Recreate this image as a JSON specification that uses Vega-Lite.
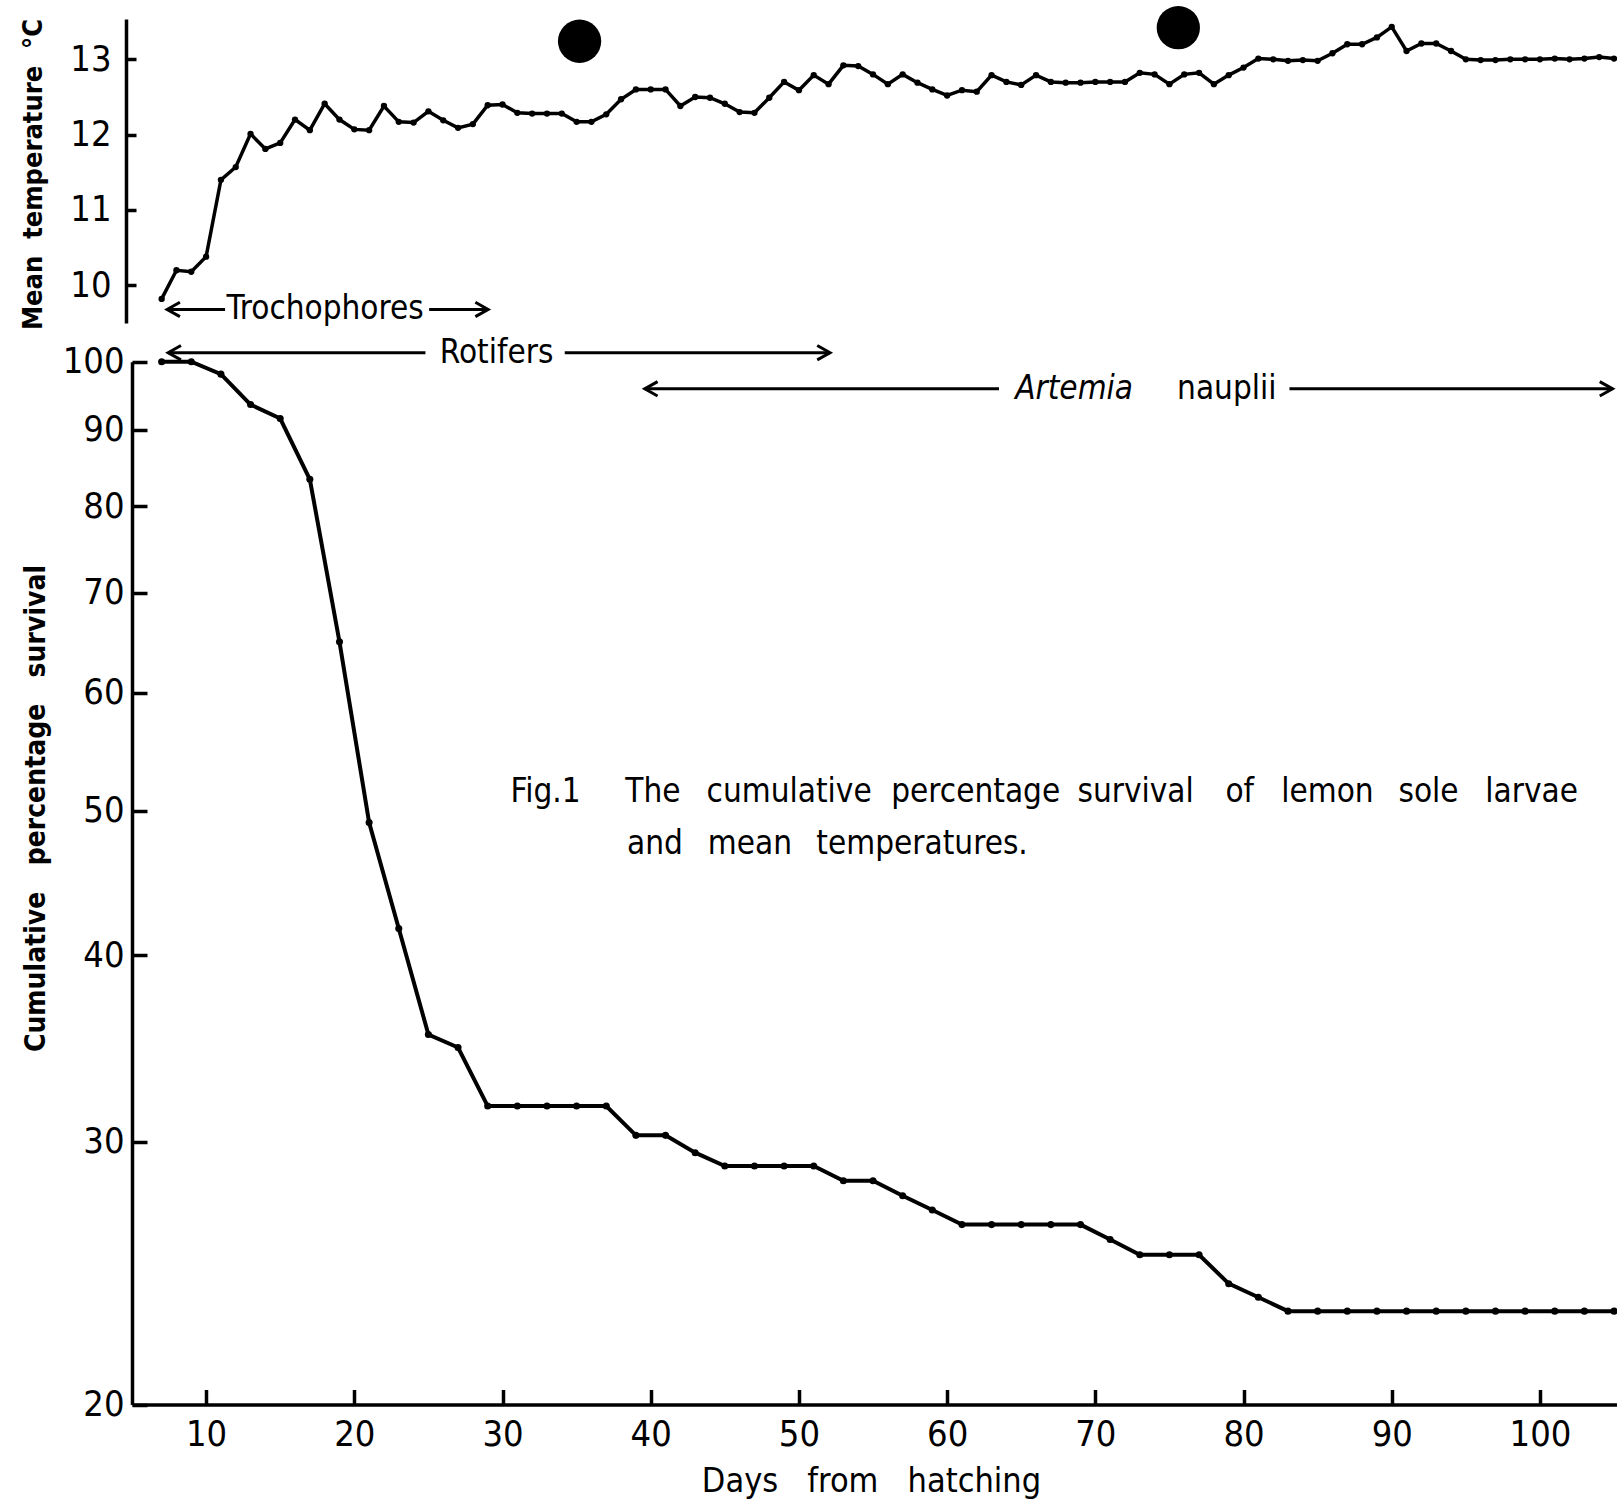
{
  "$schema": "https://vega.github.io/schema/vega-lite/v6.json",
  "autosize": {"type": "none"},
  "padding": {"left": 132, "top": 0, "right": 0, "bottom": 0},
  "width": 1485,
  "height": 1508,
  "background": "white",
  "config": {
    "view": {"stroke": null},
    "axis": {"grid": false, "domainColor": "black", "tickColor": "black", "labelColor": "black", "titleColor": "black", "domainWidth": 3.5, "tickWidth": 3.5, "labelOverlap": false, "labelFlush": false},
    "text": {"font": "DejaVu Sans Condensed, sans-serif", "fontSize": 33, "color": "black"}
  },
  "datasets": {
    "temp": [
      {"day": 7, "temp": 9.82}, {"day": 8, "temp": 10.2}, {"day": 9, "temp": 10.18}, {"day": 10, "temp": 10.38},
      {"day": 11, "temp": 11.4}, {"day": 12, "temp": 11.57}, {"day": 13, "temp": 12.01}, {"day": 14, "temp": 11.81},
      {"day": 15, "temp": 11.89}, {"day": 16, "temp": 12.2}, {"day": 17, "temp": 12.06}, {"day": 18, "temp": 12.41},
      {"day": 19, "temp": 12.2}, {"day": 20, "temp": 12.07}, {"day": 21, "temp": 12.06}, {"day": 22, "temp": 12.38},
      {"day": 23, "temp": 12.17}, {"day": 24, "temp": 12.16}, {"day": 25, "temp": 12.31}, {"day": 26, "temp": 12.19},
      {"day": 27, "temp": 12.09}, {"day": 28, "temp": 12.14}, {"day": 29, "temp": 12.39}, {"day": 30, "temp": 12.4},
      {"day": 31, "temp": 12.29}, {"day": 32, "temp": 12.28}, {"day": 33, "temp": 12.28}, {"day": 34, "temp": 12.28},
      {"day": 35, "temp": 12.17}, {"day": 36, "temp": 12.17}, {"day": 37, "temp": 12.27}, {"day": 38, "temp": 12.47},
      {"day": 39, "temp": 12.6}, {"day": 40, "temp": 12.6}, {"day": 41, "temp": 12.6}, {"day": 42, "temp": 12.38},
      {"day": 43, "temp": 12.5}, {"day": 44, "temp": 12.49}, {"day": 45, "temp": 12.41}, {"day": 46, "temp": 12.3},
      {"day": 47, "temp": 12.29}, {"day": 48, "temp": 12.49}, {"day": 49, "temp": 12.7}, {"day": 50, "temp": 12.59},
      {"day": 51, "temp": 12.79}, {"day": 52, "temp": 12.67}, {"day": 53, "temp": 12.92}, {"day": 54, "temp": 12.91},
      {"day": 55, "temp": 12.8}, {"day": 56, "temp": 12.67}, {"day": 57, "temp": 12.8}, {"day": 58, "temp": 12.69},
      {"day": 59, "temp": 12.6}, {"day": 60, "temp": 12.52}, {"day": 61, "temp": 12.59}, {"day": 62, "temp": 12.57},
      {"day": 63, "temp": 12.79}, {"day": 64, "temp": 12.7}, {"day": 65, "temp": 12.66}, {"day": 66, "temp": 12.79},
      {"day": 67, "temp": 12.7}, {"day": 68, "temp": 12.69}, {"day": 69, "temp": 12.69}, {"day": 70, "temp": 12.7},
      {"day": 71, "temp": 12.7}, {"day": 72, "temp": 12.7}, {"day": 73, "temp": 12.82}, {"day": 74, "temp": 12.8},
      {"day": 75, "temp": 12.67}, {"day": 76, "temp": 12.8}, {"day": 77, "temp": 12.82}, {"day": 78, "temp": 12.67},
      {"day": 79, "temp": 12.79}, {"day": 80, "temp": 12.89}, {"day": 81, "temp": 13.01}, {"day": 82, "temp": 13.0},
      {"day": 83, "temp": 12.98}, {"day": 84, "temp": 12.99}, {"day": 85, "temp": 12.98}, {"day": 86, "temp": 13.08},
      {"day": 87, "temp": 13.2}, {"day": 88, "temp": 13.2}, {"day": 89, "temp": 13.29}, {"day": 90, "temp": 13.43},
      {"day": 91, "temp": 13.11}, {"day": 92, "temp": 13.21}, {"day": 93, "temp": 13.21}, {"day": 94, "temp": 13.11},
      {"day": 95, "temp": 13.0}, {"day": 96, "temp": 12.99}, {"day": 97, "temp": 12.99}, {"day": 98, "temp": 13.0},
      {"day": 99, "temp": 13.0}, {"day": 100, "temp": 13.0}, {"day": 101, "temp": 13.01}, {"day": 102, "temp": 13.0},
      {"day": 103, "temp": 13.01}, {"day": 104, "temp": 13.03}, {"day": 105, "temp": 13.01}
    ],
    "blobs": [
      {"day": 35.2, "temp": 13.24}, {"day": 75.6, "temp": 13.42}
    ],
    "surv": [
      {"day": 7, "surv": 100}, {"day": 9, "surv": 100}, {"day": 11, "surv": 98.1}, {"day": 13, "surv": 93.6},
      {"day": 15, "surv": 91.6}, {"day": 17, "surv": 83.4}, {"day": 19, "surv": 64.9}, {"day": 21, "surv": 49.1},
      {"day": 23, "surv": 41.7}, {"day": 25, "surv": 35.4}, {"day": 27, "surv": 34.7}, {"day": 29, "surv": 31.7},
      {"day": 31, "surv": 31.7}, {"day": 33, "surv": 31.7}, {"day": 35, "surv": 31.7}, {"day": 37, "surv": 31.7},
      {"day": 39, "surv": 30.3}, {"day": 41, "surv": 30.3}, {"day": 43, "surv": 29.5}, {"day": 45, "surv": 28.9},
      {"day": 47, "surv": 28.9}, {"day": 49, "surv": 28.9}, {"day": 51, "surv": 28.9}, {"day": 53, "surv": 28.25},
      {"day": 55, "surv": 28.25}, {"day": 57, "surv": 27.6}, {"day": 59, "surv": 27.0}, {"day": 61, "surv": 26.4},
      {"day": 63, "surv": 26.4}, {"day": 65, "surv": 26.4}, {"day": 67, "surv": 26.4}, {"day": 69, "surv": 26.4},
      {"day": 71, "surv": 25.8}, {"day": 73, "surv": 25.2}, {"day": 75, "surv": 25.2}, {"day": 77, "surv": 25.2},
      {"day": 79, "surv": 24.1}, {"day": 81, "surv": 23.6}, {"day": 83, "surv": 23.1}, {"day": 85, "surv": 23.1},
      {"day": 87, "surv": 23.1}, {"day": 89, "surv": 23.1}, {"day": 91, "surv": 23.1}, {"day": 93, "surv": 23.1},
      {"day": 95, "surv": 23.1}, {"day": 97, "surv": 23.1}, {"day": 99, "surv": 23.1}, {"day": 101, "surv": 23.1},
      {"day": 103, "surv": 23.1}, {"day": 105, "surv": 23.1}
    ],
    "tempArrows": [
      {"day": 7.37, "day2": 11.28, "temp": 9.68},
      {"day": 25.05, "day2": 29.03, "temp": 9.68}
    ],
    "tempHeads": [
      {"day": 7.37, "temp": 9.68, "dir": "L"},
      {"day": 29.03, "temp": 9.68, "dir": "R"}
    ],
    "tempText": [
      {"day": 18.03, "temp": 9.68, "text": "Trochophores"}
    ],
    "survArrows": [
      {"day": 7.44, "day2": 24.8, "surv": 101.4},
      {"day": 34.2, "day2": 52.1, "surv": 101.4},
      {"day": 39.6, "day2": 63.5, "surv": 95.9},
      {"day": 83.1, "day2": 104.9, "surv": 95.9}
    ],
    "survHeads": [
      {"day": 7.44, "surv": 101.4, "dir": "L"},
      {"day": 52.1, "surv": 101.4, "dir": "R"},
      {"day": 39.6, "surv": 95.9, "dir": "L"},
      {"day": 104.9, "surv": 95.9, "dir": "R"}
    ],
    "survText": [
      {"day": 29.6, "surv": 101.4, "text": "Rotifers"},
      {"day": 78.87, "surv": 95.9, "text": "nauplii"},
      {"day": 32.91, "surv": 51.5, "text": "Fig.1"},
      {"day": 40.15, "surv": 51.5, "text": "The"},
      {"day": 49.34, "surv": 51.5, "text": "cumulative"},
      {"day": 61.93, "surv": 51.5, "text": "percentage"},
      {"day": 72.72, "surv": 51.5, "text": "survival"},
      {"day": 79.74, "surv": 51.5, "text": "of"},
      {"day": 85.66, "surv": 51.5, "text": "lemon"},
      {"day": 92.48, "surv": 51.5, "text": "sole"},
      {"day": 99.44, "surv": 51.5, "text": "larvae"},
      {"day": 40.29, "surv": 47.5, "text": "and"},
      {"day": 46.69, "surv": 47.5, "text": "mean"},
      {"day": 58.31, "surv": 47.5, "text": "temperatures."}
    ],
    "survItalic": [
      {"day": 68.57, "surv": 95.9, "text": "Artemia"}
    ]
  },
  "layer": [
    {
      "encoding": {
        "x": {"field": "day", "type": "quantitative", "scale": {"domain": [5, 105.2], "nice": false, "zero": false},
          "axis": {"orient": "bottom", "offset": -103.5, "values": [10, 20, 30, 40, 50, 60, 70, 80, 90, 100], "tickSize": -15, "labelPadding": 28,
            "labelFont": "DejaVu Sans Condensed, sans-serif", "labelFontSize": 36,
            "title": "Days\u00a0\u00a0\u00a0from\u00a0\u00a0\u00a0hatching", "titleX": 739, "titleY": 77, "titleBaseline": "middle", "titleAlign": "center",
            "titleFont": "DejaVu Sans Condensed, sans-serif", "titleFontSize": 34, "titleFontWeight": "normal"}},
        "y": {"field": "temp", "type": "quantitative", "scale": {"domain": [9.5, 13.535], "range": [323, 19], "nice": false, "zero": false},
          "axis": {"orient": "left", "offset": 6, "values": [10, 11, 12, 13], "tickSize": -10, "labelPadding": 25,
            "labelFont": "DejaVu Sans Condensed, sans-serif", "labelFontSize": 36,
            "title": "Mean\u00a0\u00a0temperature\u00a0\u00a0°C", "titleX": -93, "titleY": 174, "titleAngle": -90, "titleBaseline": "middle", "titleAlign": "center",
            "titleFont": "DejaVu Sans Condensed, sans-serif", "titleFontSize": 27, "titleFontWeight": "bold"}}
      },
      "layer": [
        {
          "data": {"name": "temp"},
          "mark": {"type": "line", "color": "black", "strokeWidth": 3.5}
        },
        {
          "data": {"name": "temp"},
          "mark": {"type": "point", "filled": true, "color": "black", "size": 40, "opacity": 1}
        },
        {
          "data": {"name": "blobs"},
          "mark": {"type": "point", "filled": true, "color": "black", "size": 1875, "opacity": 1, "shape": "circle"}
        },
        {
          "data": {"name": "tempArrows"},
          "mark": {"type": "rule", "color": "black", "strokeWidth": 3},
          "encoding": {"x2": {"field": "day2"}}
        },
        {
          "data": {"name": "tempHeads"},
          "mark": {"type": "point", "filled": false, "color": "black", "strokeWidth": 3, "size": 256, "opacity": 1},
          "encoding": {
            "shape": {"field": "dir", "type": "nominal", "legend": null, "scale": {"domain": ["L", "R"], "range": ["M1.6,-0.9L0,0L1.6,0.9", "M-1.6,-0.9L0,0L-1.6,0.9"]}}
          }
        },
        {
          "data": {"name": "tempText"},
          "mark": {"type": "text", "align": "center", "baseline": "middle"},
          "encoding": {"text": {"field": "text"}}
        }
      ]
    },
    {
      "encoding": {
        "x": {"field": "day", "type": "quantitative", "scale": {"domain": [5, 105.2], "nice": false, "zero": false},
          "axis": {"orient": "bottom", "offset": -103.5, "values": [10, 20, 30, 40, 50, 60, 70, 80, 90, 100], "tickSize": -15, "labelPadding": 28,
            "labelFont": "DejaVu Sans Condensed, sans-serif", "labelFontSize": 36,
            "title": "Days\u00a0\u00a0\u00a0from\u00a0\u00a0\u00a0hatching", "titleX": 739, "titleY": 77, "titleBaseline": "middle", "titleAlign": "center",
            "titleFont": "DejaVu Sans Condensed, sans-serif", "titleFontSize": 34, "titleFontWeight": "normal"}},
        "y": {"field": "surv", "type": "quantitative", "scale": {"type": "log", "domain": [20, 100], "range": [1404.5, 361.7], "nice": false, "zero": false},
          "axis": {"orient": "left", "offset": 0, "values": [20, 30, 40, 50, 60, 70, 80, 90, 100], "format": "d", "tickSize": -15, "labelPadding": 23,
            "labelFont": "DejaVu Sans Condensed, sans-serif", "labelFontSize": 36,
            "title": "Cumulative\u00a0\u00a0\u00a0percentage\u00a0\u00a0\u00a0survival", "titleX": -96, "titleY": 808, "titleAngle": -90, "titleBaseline": "middle", "titleAlign": "center",
            "titleFont": "DejaVu Sans Condensed, sans-serif", "titleFontSize": 28, "titleFontWeight": "bold"}}
      },
      "layer": [
        {
          "data": {"name": "surv"},
          "mark": {"type": "line", "color": "black", "strokeWidth": 4}
        },
        {
          "data": {"name": "surv"},
          "mark": {"type": "point", "filled": true, "color": "black", "size": 50, "opacity": 1}
        },
        {
          "data": {"name": "survArrows"},
          "mark": {"type": "rule", "color": "black", "strokeWidth": 3},
          "encoding": {"x2": {"field": "day2"}}
        },
        {
          "data": {"name": "survHeads"},
          "mark": {"type": "point", "filled": false, "color": "black", "strokeWidth": 3, "size": 256, "opacity": 1},
          "encoding": {
            "shape": {"field": "dir", "type": "nominal", "legend": null, "scale": {"domain": ["L", "R"], "range": ["M1.6,-0.9L0,0L1.6,0.9", "M-1.6,-0.9L0,0L-1.6,0.9"]}}
          }
        },
        {
          "data": {"name": "survText"},
          "mark": {"type": "text", "align": "center", "baseline": "middle"},
          "encoding": {"text": {"field": "text"}}
        },
        {
          "data": {"name": "survItalic"},
          "mark": {"type": "text", "align": "center", "baseline": "middle", "fontStyle": "italic"},
          "encoding": {"text": {"field": "text"}}
        }
      ]
    }
  ],
  "resolve": {"scale": {"y": "independent"}, "axis": {"y": "independent"}}
}
